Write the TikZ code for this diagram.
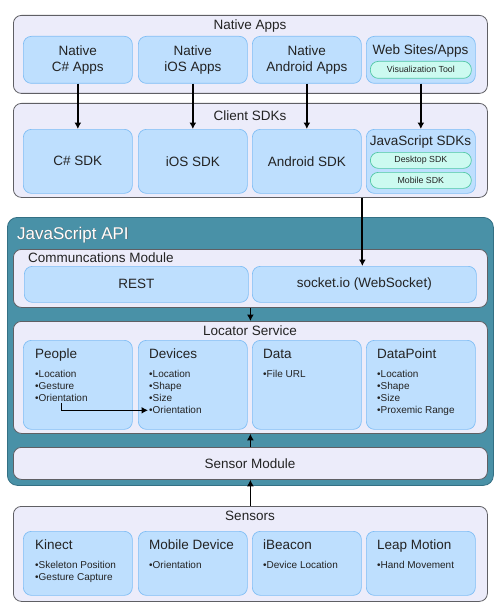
\documentclass[tikz,border=0pt]{standalone}
\usepackage{fontspec}
\setmainfont{Liberation Sans}
\usetikzlibrary{arrows.meta}
\definecolor{lav}{RGB}{236,236,250}
\definecolor{outbord}{RGB}{95,95,100}
\definecolor{bfill}{RGB}{190,223,254}
\definecolor{bbord}{RGB}{128,190,245}
\definecolor{pfill}{RGB}{204,250,240}
\definecolor{pbord}{RGB}{80,200,165}
\definecolor{teal}{RGB}{73,145,167}
\definecolor{tealbord}{RGB}{52,112,132}
\definecolor{txt}{RGB}{35,35,35}
\begin{document}
\begin{tikzpicture}[x=1pt,y=-1pt,
  outer/.style={draw=outbord, fill=lav, rounded corners=8pt, line width=0.8pt, anchor=north west, inner sep=0pt},
  inbox/.style={draw=bbord, fill=bfill, rounded corners=8pt, line width=0.7pt, anchor=north west, inner sep=0pt, text=txt, align=center, font=\fontsize{13.5}{15.5}\selectfont},
  pill/.style={draw=pbord, fill=pfill, rounded corners=8pt, line width=0.7pt, anchor=north west, inner sep=0pt, text=txt, font=\fontsize{8.8}{10}\selectfont},
  head/.style={anchor=base, inner sep=0pt, text=txt, font=\fontsize{13.5}{16}\selectfont},
  ttl/.style={anchor=base west, inner sep=0pt, text=txt, font=\fontsize{13.5}{16}\selectfont},
  bul/.style={anchor=base west, inner sep=0pt, text=txt, font=\fontsize{10}{12}\selectfont},
  arr/.style={-{Latex[length=6.5pt,width=7pt]}, line width=1.8pt, black}]
\useasboundingbox (0,0) rectangle (500,607);

% ---------- Native Apps ----------
\node[outer, minimum width=474pt, minimum height=78pt] (native) at (13,15) {};
\node[head] (nativet) at (250,29.5) {Native Apps};
\node[inbox, minimum width=109pt, minimum height=47pt] (csapp) at (23,36) {Native\\C\# Apps};
\node[inbox, minimum width=109pt, minimum height=47pt] (iosapp) at (138,36) {Native\\iOS Apps};
\node[inbox, minimum width=109pt, minimum height=47pt] (andapp) at (252,36) {Native\\Android Apps};
\node[inbox, minimum width=109pt, minimum height=47pt] (web) at (366,36) {};
\node[head] (webt) at (420.5,55) {Web Sites/Apps};
\node[pill, minimum width=101pt, minimum height=17pt] (vis) at (370,61) {Visualization Tool};

% ---------- Client SDKs ----------
\node[outer, minimum width=474pt, minimum height=94pt] (client) at (13,103) {};
\node[head] (clientt) at (250,120.7) {Client SDKs};
\node[inbox, minimum width=109pt, minimum height=64pt] (cssdk) at (23,129) {C\# SDK};
\node[inbox, minimum width=109pt, minimum height=64pt] (iossdk) at (138,129) {iOS SDK};
\node[inbox, minimum width=109pt, minimum height=64pt] (andsdk) at (252,129) {Android SDK};
\node[inbox, minimum width=109pt, minimum height=64pt] (jssdk) at (366,129) {};
\node[head] (jssdkt) at (420.5,146) {JavaScript SDKs};
\node[pill, minimum width=101pt, minimum height=16pt] (desk) at (370,152) {Desktop SDK};
\node[pill, minimum width=101pt, minimum height=16pt] (mob) at (370,172) {Mobile SDK};

% ---------- JavaScript API ----------
\node[draw=tealbord, fill=teal, rounded corners=10pt, line width=0.8pt, anchor=north west, inner sep=0pt,
      minimum width=486pt, minimum height=268pt] (api) at (7,217) {};
\node[anchor=base west, inner sep=0pt, text=black!60, font=\fontsize{17}{19}\selectfont] (apish) at (17.6,239.9) {JavaScript API};
\node[anchor=base west, inner sep=0pt, text=white, font=\fontsize{17}{19}\selectfont] (apit) at (17,239.3) {JavaScript API};

\node[outer, minimum width=474pt, minimum height=58pt] (comm) at (13,249) {};
\node[ttl] (commt) at (28,262.3) {Communcations Module};
\node[inbox, minimum width=224pt, minimum height=36pt] (rest) at (24,266) {REST};
\node[inbox, minimum width=224pt, minimum height=36pt] (sock) at (252,266) {socket.io (WebSocket)};

\node[outer, minimum width=474pt, minimum height=112pt] (loc) at (13,321) {};
\node[head] (loct) at (250,335.7) {Locator Service};
\node[inbox, minimum width=109pt, minimum height=89pt] (people) at (23,340) {};
\node[inbox, minimum width=109pt, minimum height=89pt] (devices) at (138,340) {};
\node[inbox, minimum width=109pt, minimum height=89pt] (data) at (252,340) {};
\node[inbox, minimum width=109pt, minimum height=89pt] (dpoint) at (366,340) {};
\node[ttl] (peoplet) at (35,358) {People};
\node[ttl] (devicest) at (149,358) {Devices};
\node[ttl] (datat) at (263,358) {Data};
\node[ttl] (dpointt) at (377,358) {DataPoint};
\foreach \t [count=\i] in {Location,Gesture,Orientation}
  \node[bul] (peo\i) at (35,{377+12.3*(\i-1)}) {•\t};
\foreach \t [count=\i] in {Location,Shape,Size,Orientation}
  \node[bul] (dev\i) at (149,{377+12.3*(\i-1)}) {•\t};
\node[bul] (dat1) at (263,377) {•File URL};
\foreach \t [count=\i] in {Location,Shape,Size,Proxemic Range}
  \node[bul] (dp\i) at (377,{377+12.3*(\i-1)}) {•\t};

\node[outer, minimum width=474pt, minimum height=32pt] (sensmod) at (13,447) {};
\node[head] (sensmodt) at (250,468.3) {Sensor Module};

% ---------- Sensors ----------
\node[outer, minimum width=474pt, minimum height=95pt] (sensors) at (13,506) {};
\node[head] (sensorst) at (250,520) {Sensors};
\node[inbox, minimum width=109pt, minimum height=64pt] (kinect) at (23,531) {};
\node[inbox, minimum width=109pt, minimum height=64pt] (mobdev) at (138,531) {};
\node[inbox, minimum width=109pt, minimum height=64pt] (ibeacon) at (252,531) {};
\node[inbox, minimum width=109pt, minimum height=64pt] (leap) at (366,531) {};
\node[ttl] (kinectt) at (35,549) {Kinect};
\node[ttl] (mobdevt) at (149,549) {Mobile Device};
\node[ttl] (ibeacont) at (263,549) {iBeacon};
\node[ttl] (leapt) at (377,549) {Leap Motion};
\node[bul] (kin1) at (35,568) {•Skeleton Position};
\node[bul] (kin2) at (35,580.3) {•Gesture Capture};
\node[bul] (mob1) at (149,568) {•Orientation};
\node[bul] (ib1) at (263,568) {•Device Location};
\node[bul] (lp1) at (377,568) {•Hand Movement};

% ---------- Connectors ----------
\draw[arr] (csapp.south) -- (cssdk.north);
\draw[arr] (iosapp.south) -- (iossdk.north);
\draw[arr] (andapp.south) -- (andsdk.north);
\draw[arr] (web.south) -- (jssdk.north);
\draw[arr] ([xshift=-2pt]client.south -| sock.north) -- ([xshift=-2pt]sock.north);
\draw[arr] (comm.south) -- (loc.north);
\draw[arr] (sensmod.north) -- (loc.south);
\draw[arr] (sensors.north) -- (sensmod.south);
\draw[arr, line width=1.4pt] ([yshift=-1pt]peo3.south) |- ([xshift=-1pt]dev4.west);
\end{tikzpicture}
\end{document}
